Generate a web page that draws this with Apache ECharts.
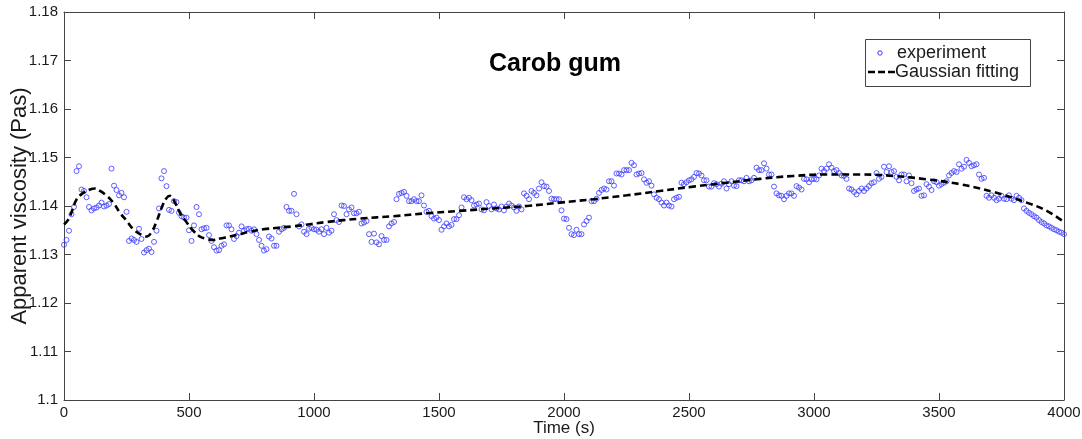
<!DOCTYPE html>
<html><head><meta charset="utf-8">
<script src="https://cdn.jsdelivr.net/npm/echarts@6/dist/echarts.min.js"></script>
<style>html,body{margin:0;padding:0;background:#fff}#c{width:1082px;height:439px}</style>
</head><body><div id="c"></div>
<script>
// ---- data ----
const timeStart = 0;      // s, first sample
const timeStep = 10;      // s, sampling interval of the experiment
const viscosity = [
1.1320,1.1330,1.1349,1.1383,1.1398,1.1472,1.1482,1.1434,1.1431,1.1418,
1.1398,1.1391,1.1395,1.1397,1.1401,1.1407,1.1399,1.1401,1.1404,1.1477,
1.1442,1.1433,1.1422,1.1427,1.1418,1.1388,1.1328,1.1333,1.1330,1.1326,
1.1353,1.1332,1.1304,1.1309,1.1312,1.1305,1.1326,1.1349,1.1395,1.1457,
1.1472,1.1441,1.1392,1.1390,1.1410,1.1408,1.1386,1.1379,1.1376,1.1376,
1.1350,1.1328,1.1360,1.1398,1.1383,1.1352,1.1354,1.1355,1.1340,1.1328,
1.1315,1.1308,1.1309,1.1318,1.1321,1.1360,1.1360,1.1352,1.1332,1.1338,
1.1345,1.1358,1.1349,1.1352,1.1353,1.1349,1.1352,1.1342,1.1330,1.1318,
1.1308,1.1311,1.1337,1.1333,1.1318,1.1318,1.1347,1.1352,1.1355,1.1398,
1.1390,1.1390,1.1425,1.1383,1.1358,1.1362,1.1347,1.1342,1.1353,1.1355,
1.1352,1.1351,1.1347,1.1352,1.1342,1.1355,1.1345,1.1349,1.1383,1.1371,
1.1367,1.1401,1.1400,1.1383,1.1393,1.1397,1.1385,1.1385,1.1388,1.1364,
1.1366,1.1369,1.1342,1.1326,1.1343,1.1325,1.1321,1.1338,1.1330,1.1330,
1.1358,1.1364,1.1367,1.1414,1.1425,1.1427,1.1429,1.1421,1.1410,1.1410,
1.1414,1.1410,1.1410,1.1422,1.1401,1.1388,1.1390,1.1379,1.1374,1.1376,
1.1371,1.1351,1.1358,1.1364,1.1358,1.1361,1.1373,1.1373,1.1381,1.1397,
1.1418,1.1414,1.1417,1.1412,1.1401,1.1403,1.1405,1.1393,1.1391,1.1408,
1.1400,1.1393,1.1403,1.1395,1.1393,1.1399,1.1391,1.1399,1.1405,1.1401,
1.1397,1.1390,1.1399,1.1393,1.1426,1.1421,1.1414,1.1431,1.1427,1.1422,
1.1436,1.1449,1.1441,1.1440,1.1431,1.1415,1.1414,1.1414,1.1414,1.1391,
1.1374,1.1373,1.1355,1.1342,1.1340,1.1351,1.1342,1.1342,1.1362,1.1369,
1.1376,1.1410,1.1410,1.1415,1.1427,1.1433,1.1436,1.1434,1.1451,1.1451,
1.1442,1.1467,1.1467,1.1465,1.1474,1.1474,1.1474,1.1489,1.1484,1.1465,
1.1467,1.1468,1.1455,1.1448,1.1451,1.1442,1.1424,1.1417,1.1414,1.1407,
1.1401,1.1407,1.1401,1.1399,1.1414,1.1417,1.1419,1.1448,1.1445,1.1449,
1.1453,1.1455,1.1460,1.1468,1.1467,1.1463,1.1453,1.1453,1.1440,1.1440,
1.1447,1.1445,1.1440,1.1446,1.1451,1.1436,1.1445,1.1451,1.1442,1.1441,
1.1453,1.1453,1.1451,1.1458,1.1451,1.1453,1.1458,1.1479,1.1474,1.1474,
1.1488,1.1477,1.1465,1.1465,1.1440,1.1426,1.1422,1.1421,1.1414,1.1421,
1.1426,1.1426,1.1421,1.1441,1.1438,1.1434,1.1456,1.1455,1.1449,1.1455,
1.1456,1.1455,1.1463,1.1477,1.1472,1.1477,1.1486,1.1479,1.1472,1.1474,
1.1468,1.1463,1.1462,1.1456,1.1436,1.1434,1.1429,1.1424,1.1431,1.1436,
1.1431,1.1436,1.1441,1.1447,1.1449,1.1468,1.1456,1.1460,1.1481,1.1470,
1.1482,1.1470,1.1472,1.1460,1.1453,1.1465,1.1465,1.1451,1.1463,1.1447,
1.1431,1.1434,1.1436,1.1421,1.1422,1.1445,1.1440,1.1433,1.1451,1.1449,
1.1442,1.1445,1.1448,1.1451,1.1463,1.1468,1.1472,1.1470,1.1486,1.1477,
1.1481,1.1495,1.1489,1.1482,1.1484,1.1486,1.1465,1.1456,1.1458,1.1421,
1.1417,1.1422,1.1417,1.1412,1.1415,1.1421,1.1415,1.1414,1.1422,1.1415,
1.1412,1.1421,1.1417,1.1412,1.1395,1.1390,1.1386,1.1383,1.1379,1.1376,
1.1371,1.1367,1.1364,1.1360,1.1358,1.1355,1.1352,1.1350,1.1347,1.1345,
1.1342
];
const fitTime = [0,13,24,51,77,104,124,144,171,197,224,251,277,311,331,351,371,391,408,424,444,464,491,517,544,571,597,624,664,704,744,797,917,1051,1184,1317,1451,1584,1717,1851,1984,2117,2251,2384,2517,2651,2784,2917,3051,3184,3317,3451,3584,3717,3851,3931,4000];
const fitViscosity = [1.1362,1.1369,1.1379,1.1414,1.1427,1.1434,1.1436,1.1431,1.1421,1.1407,1.1386,1.1369,1.1352,1.1340,1.1337,1.1347,1.1369,1.1397,1.1415,1.1421,1.1407,1.1386,1.1366,1.1349,1.1337,1.1332,1.1330,1.1333,1.1337,1.1342,1.1347,1.1352,1.1358,1.1367,1.1374,1.1379,1.1385,1.1390,1.1395,1.1400,1.1407,1.1414,1.1422,1.1431,1.1440,1.1448,1.1456,1.1462,1.1465,1.1465,1.1462,1.1455,1.1445,1.1429,1.1407,1.1390,1.1367];
const seriesNames = ['experiment', 'Gaussian fitting'];
const chartTitle = 'Carob gum';
const xAxisTitle = 'Time (s)';
const yAxisTitle = 'Apparent viscosity (Pas)';
const xMin = 0, xMax = 4000, xStep = 500;
const yMin = 1.10, yMax = 1.18, yStep = 0.01;

// ---- chart ----
const FONT = '"Liberation Sans", Arial, Helvetica, sans-serif';
const AXIS_COLOR = '#444';
const TEXT_COLOR = '#1a1a1a';
const expData = viscosity.map((v, i) => [timeStart + i * timeStep, v]);
const fitData = fitTime.map((t, i) => [t, fitViscosity[i]]);

function baseX(pos, showLabels) {
  return {
    type: 'value', position: pos, min: xMin, max: xMax, interval: xStep,
    axisLine: { show: true, onZero: false, lineStyle: { color: AXIS_COLOR, width: 1 } },
    axisTick: { show: true, inside: true, length: 7, lineStyle: { color: AXIS_COLOR } },
    axisLabel: { show: showLabels, margin: 5, color: TEXT_COLOR, fontSize: 15, fontFamily: FONT,
      formatter: v => String(v) },
    splitLine: { show: false }
  };
}
function baseY(pos, showLabels) {
  return {
    type: 'value', position: pos, min: yMin, max: yMax, interval: yStep,
    axisLine: { show: true, onZero: false, lineStyle: { color: AXIS_COLOR, width: 1 } },
    axisTick: { show: true, inside: true, length: 7, lineStyle: { color: AXIS_COLOR } },
    axisLabel: { show: showLabels, margin: 6, color: TEXT_COLOR, fontSize: 15, fontFamily: FONT,
      formatter: v => String(+(+v).toFixed(2)) },
    splitLine: { show: false }
  };
}

const xBottom = Object.assign(baseX('bottom', true), {
  name: xAxisTitle, nameLocation: 'middle', nameGap: 20, nameMoveOverlap: false,
  nameTextStyle: { fontSize: 17, color: TEXT_COLOR, fontFamily: FONT }
});
const yLeft = Object.assign(baseY('left', true), {
  name: yAxisTitle, nameLocation: 'middle', nameGap: 33, nameRotate: 90, nameMoveOverlap: false,
  nameTextStyle: { fontSize: 22, color: TEXT_COLOR, fontFamily: FONT }
});

const chart = echarts.init(document.getElementById('c'), null, { renderer: 'canvas' });
chart.setOption({
  animation: false,
  backgroundColor: '#fff',
  grid: { left: 64, right: 18, top: 12, bottom: 39, containLabel: false, outerBoundsMode: 'none' },
  xAxis: [xBottom, baseX('top', false)],
  yAxis: [yLeft, baseY('right', false)],
  series: [
    {
      name: seriesNames[0], type: 'scatter', xAxisIndex: 0, yAxisIndex: 0,
      data: expData, symbol: 'circle', symbolSize: 5, z: 2,
      itemStyle: { color: 'rgba(0,0,0,0)', borderColor: '#3a3aff', borderWidth: 1 }
    },
    {
      name: seriesNames[1], type: 'line', xAxisIndex: 0, yAxisIndex: 0,
      data: fitData, smooth: 0.4, showSymbol: false, z: 5,
      lineStyle: { color: '#000', width: 2.6, type: [7, 4] }
    }
  ],
  graphic: [
    {
      type: 'text', left: 489, top: 52, z: 10,
      style: { text: chartTitle, fontSize: 25, fontWeight: 'bold', fontFamily: FONT, fill: '#000' }
    },
    {
      type: 'group', left: 865, top: 39, z: 10,
      children: [
        { type: 'rect', shape: { x: 0.5, y: 0.5, width: 165, height: 47 },
          style: { fill: '#fff', stroke: '#444', lineWidth: 1 } },
        { type: 'circle', shape: { cx: 15, cy: 14, r: 2.2 },
          style: { fill: 'none', stroke: '#3a3aff', lineWidth: 1 } },
        { type: 'text', x: 32, y: 14, style: { text: seriesNames[0], fontSize: 18, fontFamily: FONT,
          fill: TEXT_COLOR, verticalAlign: 'middle', align: 'left' } },
        { type: 'line', shape: { x1: 3, y1: 33, x2: 30, y2: 33 },
          style: { stroke: '#000', lineWidth: 2.6, lineDash: [7, 3] } },
        { type: 'text', x: 30, y: 33, style: { text: seriesNames[1], fontSize: 18, fontFamily: FONT,
          fill: TEXT_COLOR, verticalAlign: 'middle', align: 'left' } }
      ]
    }
  ]
});
</script>
</body></html>
